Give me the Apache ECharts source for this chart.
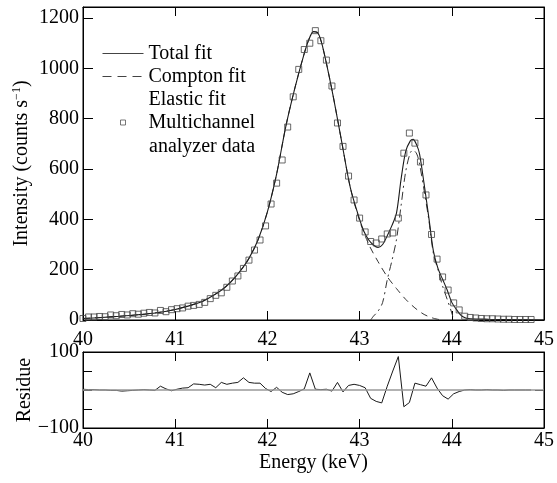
<!DOCTYPE html>
<html>
<head>
<meta charset="utf-8">
<script src="https://cdn.jsdelivr.net/npm/echarts@6/dist/echarts.min.js"></script>
<style>
  html, body { margin: 0; padding: 0; background: #fff; }
  #chart { width: 557px; height: 483px; }
</style>
</head>
<body>
<div id="chart"></div>
<script>
// measured channels (keV) and counts
var energy = [
  40.00, 40.06, 40.12, 40.18, 40.24, 40.30, 40.36, 40.42, 40.48, 40.54,
  40.60, 40.66, 40.72, 40.78, 40.84, 40.90, 40.96, 41.02, 41.08, 41.14,
  41.20, 41.26, 41.32, 41.38, 41.44, 41.50, 41.56, 41.62, 41.68, 41.74,
  41.80, 41.86, 41.92, 41.98, 42.04, 42.10, 42.16, 42.22, 42.28, 42.34,
  42.40, 42.46, 42.52, 42.58, 42.64, 42.70, 42.76, 42.82, 42.88, 42.94,
  43.00, 43.06, 43.12, 43.18, 43.24, 43.30, 43.36, 43.42, 43.48, 43.54,
  43.60, 43.66, 43.72, 43.78, 43.84, 43.90, 43.96, 44.02, 44.08, 44.14,
  44.20, 44.26, 44.32, 44.38, 44.44, 44.50, 44.56, 44.62, 44.68, 44.74,
  44.80, 44.86
];
var counts = [
  6, 12, 12, 14, 13, 20, 17, 22, 20, 25,
  23, 27, 30, 28, 38, 33, 41, 45, 48, 55,
  58, 62, 70, 85, 98, 108, 130, 155, 175, 205,
  238, 278, 318, 374, 461, 544, 636, 767, 887, 996,
  1075, 1100, 1150, 1110, 1033, 930, 783, 690, 572, 477,
  405, 350, 312, 306, 322, 342, 346, 405, 663, 743,
  703, 628, 497, 340, 242, 171, 119, 68, 40, 15,
  10, 8, 6, 5, 5, 4, 3, 3, 2, 2,
  2, 2
];
var residue = [
  2, 1, 1, 0, 0, -1, -1, -3, -2, -1,
  0, 1, 0, -1, 10, 3, -2, 2, 5, 6,
  16, 15, 13, 15, 6, 20, 15, 18, 20, 32,
  20, 18, 18, 4, -4, 7, -6, -12, -10, -4,
  3, 45, 2, 1, 2, -3, 20, -5, 12, 15,
  12, 6, -22, -30, -34, 10, 50, 88, -44, -33,
  18, 14, 10, 32, 5, -15, -24, -10, -4, 0,
  1, 0, 0, 1, 0, 0, -1, 0, 0, 0,
  0, 0
];

// fitted curves
var totalE = [40.0, 40.2, 40.4, 40.6, 40.8, 41.0, 41.2, 41.3, 41.4, 41.5, 41.6, 41.7, 41.8, 41.9, 42.0, 42.1, 42.2, 42.3, 42.4, 42.45, 42.5, 42.55, 42.6, 42.7, 42.8, 42.9, 43.0, 43.05, 43.1, 43.15, 43.2, 43.25, 43.3, 43.35, 43.4, 43.45, 43.5, 43.55, 43.58, 43.62, 43.65, 43.7, 43.75, 43.8, 43.85, 43.9, 43.95, 44.0, 44.05, 44.1, 44.15, 44.2, 44.4, 44.7, 45.0];
var totalFit = [6, 10, 15, 21, 29, 42, 62, 75, 95, 118, 150, 192, 245, 320, 430, 580, 770, 925, 1060, 1115, 1146, 1140, 1085, 915, 720, 525, 400, 350, 318, 298, 288, 300, 335, 375, 425, 560, 670, 712, 718, 695, 660, 540, 410, 275, 205, 162, 119, 70, 42, 18, 8, 5, 3, 1, 0];

var comptonE = [40.0, 40.2, 40.4, 40.6, 40.8, 41.0, 41.2, 41.3, 41.4, 41.5, 41.6, 41.7, 41.8, 41.9, 42.0, 42.1, 42.2, 42.3, 42.4, 42.45, 42.5, 42.55, 42.6, 42.7, 42.8, 42.9, 43.0, 43.1, 43.2, 43.3, 43.4, 43.5, 43.6, 43.7, 43.8, 43.89];
var comptonFit = [6, 10, 15, 21, 29, 42, 62, 75, 95, 118, 150, 192, 245, 320, 430, 580, 770, 925, 1060, 1115, 1146, 1140, 1085, 915, 720, 525, 395, 300, 232, 172, 125, 82, 48, 22, 7, 0];

var elasticE = [43.12, 43.15, 43.2, 43.25, 43.3, 43.35, 43.4, 43.45, 43.5, 43.55, 43.58, 43.62, 43.65, 43.7, 43.75, 43.8, 43.85, 43.9, 43.95, 44.0, 44.02];
var elasticFit = [0, 15, 35, 70, 160, 235, 320, 455, 590, 665, 675, 660, 620, 515, 400, 265, 200, 135, 82, 28, 0];

var legendNames = ['Total fit', 'Compton fit', 'Elastic fit', 'Multichannel analyzer data'];

function pairs(xs, ys) {
  return xs.map(function (x, i) { return [x, ys[i]]; });
}

var font = 'Liberation Serif';
var ink = '#1a1a1a';
var labelStyle = { color: '#000', fontSize: 20, fontFamily: font };

// legend icons: the two empty sub-paths pin the box to 41x14 so the shapes keep their size
var iconBox = 'path://M0,0L0,0M41,14L41,14';
var solidIcon = iconBox + 'M0,6.5H41V7.5H0Z';
var dashIcon = iconBox + 'M0,6.5h9v1h-9zM15,6.5h9v1h-9zM30,6.5h9v1h-9z';
var squareIcon = iconBox + 'M18,4.5h5v5h-5z';

function xAxisFor(grid, pos, showLabels, margin) {
  return {
    type: 'value', gridIndex: grid, position: pos, min: 40, max: 45, interval: 1,
    axisLine: { show: true, onZero: false, lineStyle: { color: '#000', width: 1 } },
    axisTick: { show: true, inside: true, length: 9, lineStyle: { color: '#000' } },
    axisLabel: Object.assign({ show: showLabels, margin: margin }, labelStyle),
    splitLine: { show: false }
  };
}

var chart = echarts.init(document.getElementById('chart'));
var option = {
  animation: false,
  backgroundColor: '#fff',
  grid: [
    { left: 83, right: 6, top: 7, bottom: 163, show: true, borderColor: '#000', borderWidth: 1, backgroundColor: 'transparent' },
    { left: 83, right: 6, top: 352, bottom: 55, show: true, borderColor: '#000', borderWidth: 1, backgroundColor: 'transparent' }
  ],
  legend: {
    orient: 'vertical',
    left: 97,
    top: 37,
    itemWidth: 41,
    itemHeight: 14,
    itemGap: 0,
    textStyle: { color: '#000', fontSize: 20, fontFamily: font, lineHeight: 23 },
    formatter: function (name) {
      return name === legendNames[3] ? 'Multichannel' : name;
    },
    data: [
      { name: legendNames[0], icon: solidIcon, itemStyle: { color: '#444' } },
      { name: legendNames[1], icon: dashIcon, itemStyle: { color: '#444' } },
      { name: legendNames[2], icon: 'none' },
      { name: legendNames[3], icon: squareIcon, itemStyle: { color: 'rgba(255,255,255,0)', borderColor: '#555', borderWidth: 1 } }
    ]
  },
  graphic: [{
    type: 'text', left: 149, top: 137,
    style: { text: 'analyzer data', fill: '#000', fontSize: 20, fontFamily: font }
  }],
  xAxis: [
    xAxisFor(0, 'bottom', true, 10),
    xAxisFor(0, 'top', false, 0),
    Object.assign(xAxisFor(1, 'bottom', true, 3), {
      name: 'Energy (keV)', nameLocation: 'middle', nameGap: 25, nameMoveOverlap: false,
      nameTextStyle: { color: '#000', fontSize: 20, fontFamily: font }
    }),
    xAxisFor(1, 'top', false, 0)
  ],
  yAxis: [
    {
      type: 'value', gridIndex: 0, position: 'left', min: 0, max: 1244, interval: 200,
      name: 'Intensity (counts s{sup|\u22121})', nameLocation: 'middle', nameGap: 50, nameMoveOverlap: false,
      nameTextStyle: {
        color: '#000', fontSize: 20, fontFamily: font,
        rich: { sup: { fontSize: 12, fontFamily: font, color: '#000', verticalAlign: 'top', lineHeight: 22 } }
      },
      axisLine: { show: true, lineStyle: { color: '#000' } },
      axisTick: { show: true, inside: true, length: 10, lineStyle: { color: '#000' } },
      axisLabel: Object.assign({
        margin: 4,
        formatter: function (v) { return v % 200 === 0 ? String(v) : ''; }
      }, labelStyle),
      splitLine: { show: false }
    },
    {
      type: 'value', gridIndex: 0, position: 'right', min: 0, max: 1244, interval: 200,
      axisLine: { show: true, lineStyle: { color: '#000' } },
      axisTick: { show: true, inside: true, length: 9, lineStyle: { color: '#000' } },
      axisLabel: { show: false },
      splitLine: { show: false }
    },
    {
      type: 'value', gridIndex: 1, position: 'left', min: -100, max: 100, interval: 50,
      name: 'Residue', nameLocation: 'middle', nameGap: 48, nameMoveOverlap: false,
      nameTextStyle: { color: '#000', fontSize: 20, fontFamily: font },
      axisLine: { show: true, lineStyle: { color: '#000' } },
      axisTick: { show: true, inside: true, length: 9, lineStyle: { color: '#000' } },
      axisLabel: Object.assign({
        margin: 4,
        formatter: function (v) {
          if (v === 100) return '100';
          if (v === -100) return '\u2212100';
          return '';
        }
      }, labelStyle),
      splitLine: { show: false }
    },
    {
      type: 'value', gridIndex: 1, position: 'right', min: -100, max: 100, interval: 50,
      axisLine: { show: true, lineStyle: { color: '#000' } },
      axisTick: { show: true, inside: true, length: 9, lineStyle: { color: '#000' } },
      axisLabel: { show: false },
      splitLine: { show: false }
    }
  ],
  series: [
    {
      name: legendNames[0], type: 'line', xAxisIndex: 0, yAxisIndex: 0,
      data: pairs(totalE, totalFit), smooth: 0.3, showSymbol: false, symbol: 'none',
      lineStyle: { color: ink, width: 1.1 }, itemStyle: { color: ink }, z: 3
    },
    {
      name: legendNames[1], type: 'line', xAxisIndex: 0, yAxisIndex: 0,
      data: pairs(comptonE, comptonFit), smooth: 0.3, showSymbol: false, symbol: 'none',
      lineStyle: { color: '#333', width: 1, type: [7, 5] }, itemStyle: { color: '#333' }, z: 2
    },
    {
      name: legendNames[2], type: 'line', xAxisIndex: 0, yAxisIndex: 0,
      data: pairs(elasticE, elasticFit), smooth: 0.3, showSymbol: false, symbol: 'none',
      lineStyle: { color: '#333', width: 1, type: [8, 4, 2, 4] }, itemStyle: { color: '#333' }, z: 2
    },
    {
      name: legendNames[3], type: 'scatter', xAxisIndex: 0, yAxisIndex: 0,
      data: pairs(energy, counts), symbol: 'rect', symbolSize: 6,
      itemStyle: { color: 'rgba(255,255,255,0)', borderColor: '#444', borderWidth: 1 }, z: 4
    },
    {
      name: 'Residue', type: 'line', xAxisIndex: 2, yAxisIndex: 2,
      data: pairs(energy, residue), showSymbol: false, symbol: 'none',
      lineStyle: { color: ink, width: 1 },
      markLine: {
        silent: true, symbol: 'none', label: { show: false },
        lineStyle: { color: '#999', width: 1.5, type: 'solid' },
        data: [{ yAxis: 0 }]
      }
    }
  ]
};
chart.setOption(option);
</script>
</body>
</html>
